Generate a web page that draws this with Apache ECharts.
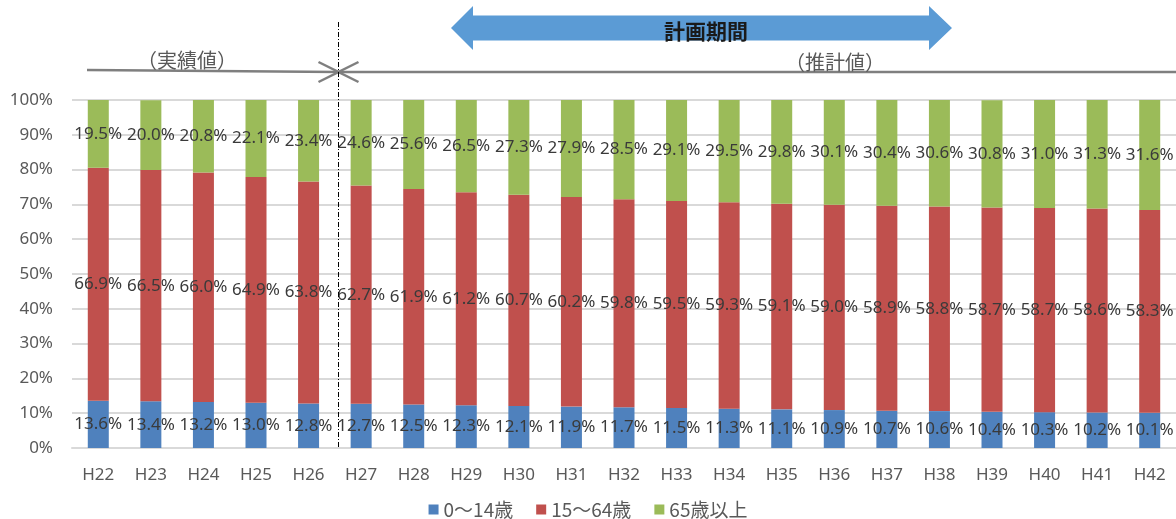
<!DOCTYPE html>
<html>
<head>
<meta charset="utf-8">
<script src="https://cdn.jsdelivr.net/npm/echarts@6/dist/echarts.min.js"></script>
<style>
  html, body { margin: 0; padding: 0; background: #fff; }
  #chart { width: 1176px; height: 519px; }
</style>
</head>
<body>
<div id="chart"></div>
<script>
// 年度（平成）
const years = ['H22','H23','H24','H25','H26','H27','H28','H29','H30','H31','H32',
               'H33','H34','H35','H36','H37','H38','H39','H40','H41','H42'];
// 年齢3区分別人口構成比（%）
const age0to14 = [13.6,13.4,13.2,13.0,12.8,12.7,12.5,12.3,12.1,11.9,11.7,
                  11.5,11.3,11.1,10.9,10.7,10.6,10.4,10.3,10.2,10.1];
const age15to64 = [66.9,66.5,66.0,64.9,63.8,62.7,61.9,61.2,60.7,60.2,59.8,
                   59.5,59.3,59.1,59.0,58.9,58.8,58.7,58.7,58.6,58.3];
const age65plus = [19.5,20.0,20.8,22.1,23.4,24.6,25.6,26.5,27.3,27.9,28.5,
                   29.1,29.5,29.8,30.1,30.4,30.6,30.8,31.0,31.3,31.6];
const seriesNames = ['0～14歳', '15～64歳', '65歳以上'];
const yTicks = { min: 0, max: 100, interval: 10 };

const chart = echarts.init(document.getElementById('chart'));
const labelFont = '"Noto Sans", "Open Sans", sans-serif';
const cjkFont = '"Noto Sans CJK JP", "Noto Sans", sans-serif';

function stackSeries(name, data, color) {
  return {
    name: name,
    type: 'bar',
    stack: 'total',
    data: data,
    barWidth: 21,
    itemStyle: { color: color },
    label: {
      show: true,
      position: 'inside',
      color: '#3A3A3A',
      fontFamily: labelFont,
      fontSize: 17,
      formatter: p => p.value.toFixed(1) + '%'
    }
  };
}

chart.setOption({
  animation: false,
  textStyle: { fontFamily: cjkFont },
  grid: { left: 72, right: 0, top: 100, bottom: 71 },
  legend: {
    top: 495,
    left: 'center',
    icon: 'rect',
    itemWidth: 10,
    itemHeight: 10,
    itemGap: 23,
    textStyle: { color: '#595959', fontSize: 19, fontFamily: cjkFont },
    data: seriesNames
  },
  xAxis: {
    type: 'category',
    data: years,
    axisTick: { show: false },
    axisLine: { lineStyle: { color: '#D9D9D9', width: 2 } },
    axisLabel: { color: '#595959', fontSize: 17, margin: 19, fontFamily: labelFont }
  },
  yAxis: {
    type: 'value',
    min: yTicks.min,
    max: yTicks.max,
    interval: yTicks.interval,
    axisLine: { show: false },
    axisTick: { show: false },
    splitLine: { lineStyle: { color: '#D9D9D9', width: 2 } },
    axisLabel: { color: '#595959', fontSize: 17, margin: 19, fontFamily: labelFont, formatter: '{value}%' }
  },
  series: [
    stackSeries(seriesNames[0], age0to14, '#4F81BD'),
    stackSeries(seriesNames[1], age15to64, '#C0504D'),
    stackSeries(seriesNames[2], age65plus, '#9BBB59')
  ]
});

// 実績値と推計値の境界（H26 と H27 の間）
const xa = chart.convertToPixel({ xAxisIndex: 0 }, 'H26');
const xb = chart.convertToPixel({ xAxisIndex: 0 }, 'H27');
const splitX = Math.round((xa + xb) / 2) + 3.5;
const baseY = chart.convertToPixel({ yAxisIndex: 0 }, 0);
const lineY = 71;
const gray = '#7F7F7F';

chart.setOption({
  graphic: [
    // 境界の一点鎖線
    { type: 'line', shape: { x1: splitX, y1: 22, x2: splitX, y2: baseY },
      style: { stroke: '#000', lineWidth: 1, lineDash: [5, 2, 1, 2] }, z: 100 },
    // 実績値の矢印
    { type: 'line', shape: { x1: 87, y1: lineY - 1, x2: splitX, y2: lineY + 1 },
      style: { stroke: gray, lineWidth: 2.5 } },
    { type: 'polyline', shape: { points: [[splitX - 20, lineY - 9], [splitX, lineY + 1], [splitX - 20, lineY + 11]] },
      style: { stroke: gray, lineWidth: 2.5, fill: null } },
    // 推計値の矢印
    { type: 'line', shape: { x1: splitX, y1: lineY + 1, x2: 1176, y2: lineY + 1 },
      style: { stroke: gray, lineWidth: 2.5 } },
    { type: 'polyline', shape: { points: [[splitX + 20, lineY - 9], [splitX, lineY + 1], [splitX + 20, lineY + 11]] },
      style: { stroke: gray, lineWidth: 2.5, fill: null } },
    { type: 'text', x: 187, y: 60,
      style: { text: '（実績値）', fill: '#595959', font: '20px ' + cjkFont, align: 'center', verticalAlign: 'middle' } },
    { type: 'text', x: 835, y: 62,
      style: { text: '（推計値）', fill: '#595959', font: '20px ' + cjkFont, align: 'center', verticalAlign: 'middle' } },
    // 計画期間の両矢印
    { type: 'polygon',
      shape: { points: [[451, 28], [473, 6], [473, 15.5], [929, 15.5], [929, 6], [952, 28],
                        [929, 50], [929, 40.5], [473, 40.5], [473, 50]] },
      style: { fill: '#5B9BD5' } },
    { type: 'text', x: 706, y: 31,
      style: { text: '計画期間', fill: '#1A1A1A', font: 'bold 21px ' + cjkFont, align: 'center', verticalAlign: 'middle' } }
  ]
});
</script>
</body>
</html>
